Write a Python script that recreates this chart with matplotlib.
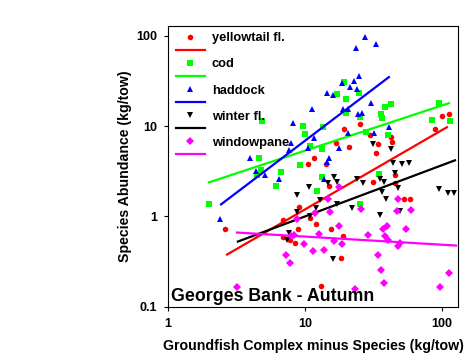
import matplotlib
matplotlib.use('Agg')
import matplotlib.pyplot as plt
import numpy as np

plt.rcParams['font.family'] = ['Liberation Sans', 'DejaVu Sans']
plt.rcParams['font.weight'] = 'bold'

# yellowtail flounder
yt_x = [19.3, 25.2, 29.8, 34.1, 42.5, 43.2, 20.9, 16.8, 33.0, 11.6, 88.9, 100, 112,
        10.5, 14.2, 31.4, 45.4, 45.4, 52.8, 58.4, 9.04, 10.9, 12.0, 15.5, 2.61, 6.91,
        8.89, 6.91, 7.78, 8.45, 18.9, 18.3, 13.1, 15.0]
yt_y = [9.27, 10.5, 7.94, 6.31, 7.55, 6.64, 5.84, 6.47, 5.01, 4.41, 9.27, 12.9, 13.6,
        3.78, 3.78, 2.39, 2.85, 2.33, 1.55, 1.55, 1.26, 0.95, 0.815, 0.717, 0.735, 0.903,
        0.717, 0.585, 0.555, 0.514, 0.6, 0.35, 0.171, 2.15]

# cod
cod_x = [19.3, 17.1, 19.9, 24.8, 38.4, 42.5, 95.1, 4.85, 9.67, 13.5, 19.9, 25.2, 35.9,
         36.5, 84.5, 114, 10.0, 27.9, 40.4, 10.9, 13.3, 4.62, 4.77, 4.46, 6.68, 6.14,
         9.2, 12.2, 13.3, 1.99, 25.2, 34.7]
cod_y = [30.8, 22.7, 20.0, 23.3, 16.3, 17.6, 18.0, 11.4, 10.0, 9.75, 13.9, 12.6, 13.6,
         12.3, 11.7, 11.4, 8.15, 8.58, 7.94, 6.0, 5.55, 4.41, 3.24, 2.85, 3.08, 2.15,
         3.69, 1.9, 2.71, 1.39, 1.39, 2.93]

# haddock
had_x = [27.4, 23.6, 33.0, 18.6, 22.8, 24.8, 21.3, 24.0, 14.5, 16.0, 11.2, 18.9, 20.6,
         30.3, 24.4, 26.1, 8.2, 41.0, 31.9, 11.6, 7.6, 10.5, 17.7, 15.0, 4.0, 4.4, 5.1,
         6.5, 2.4, 14.5, 13.8, 7.9, 20.6]
had_y = [97.5, 73.6, 81.5, 30.0, 31.6, 35.9, 27.1, 25.8, 23.3, 22.1, 15.4, 15.4, 15.4,
         18.0, 13.6, 13.9, 10.8, 9.7, 8.4, 7.4, 5.5, 5.7, 5.7, 4.5, 4.4, 3.16, 2.9,
         2.6, 0.93, 4.0, 2.6, 6.5, 8.4]

# winter flounder
wf_x = [31.4, 42.5, 43.9, 51.1, 57.4, 45.4, 26.5, 35.3, 37.7, 47.7, 36.5, 39.0, 95.1,
        110.6, 122, 16.3, 17.1, 14.7, 24.0, 8.74, 10.7, 12.9, 17.1, 22.0, 12.0, 8.74,
        10.9, 35.3, 49.3, 7.64, 7.39, 16.0]
wf_y = [6.31, 5.55, 3.88, 3.78, 3.88, 3.0, 2.33, 2.58, 2.39, 2.05, 1.85, 1.58, 2.0,
        1.8, 1.8, 2.71, 2.39, 2.33, 2.58, 1.71, 2.1, 1.51, 1.36, 1.23, 1.23, 1.11,
        1.0, 1.05, 1.14, 0.664, 0.555, 0.341]

# windowpane
wp_x = [17.7, 14.7, 25.6, 15.2, 11.8, 8.74, 17.7, 7.91, 8.31, 9.84, 11.4, 13.8, 12.6,
        7.26, 7.78, 3.19, 16.3, 18.6, 23.2, 28.8, 34.1, 35.9, 37.7, 37.1, 39.7, 38.4,
        40.4, 47.7, 47.0, 59.4, 54.6, 49.3, 47.7, 112, 96.7]
wp_y = [2.1, 1.58, 1.2, 1.11, 1.08, 0.926, 0.794, 0.615, 0.63, 0.489, 0.409, 0.43, 0.647,
        0.378, 0.308, 0.167, 0.541, 0.489, 0.158, 0.63, 0.378, 0.258, 0.185, 0.717, 0.774,
        0.615, 0.555, 1.55, 1.14, 1.17, 0.717, 0.514, 0.476, 0.239, 0.167]

# power-law fits: log10(y) = a + b*log10(x), over [xmin, xmax]
fit_a = [-0.801, 0.228, -0.312, -0.568, -0.133]
fit_b = [0.879, 0.501, 1.151, 0.568, -0.090]
fit_xmin = [2.7, 1.99, 2.44, 3.24, 3.19]
fit_xmax = [108.7, 112.5, 41.0, 124.5, 126.5]

names = ['yellowtail fl.', 'cod', 'haddock', 'winter fl.', 'windowpane']
colors = ['#ff0000', '#00ff00', '#0000ff', '#000000', '#ff00ff']
markers = ['o', 's', '^', 'v', 'D']
msizes = [4.0, 4.5, 5.0, 5.0, 4.2]
xs = [yt_x, cod_x, had_x, wf_x, wp_x]
ys = [yt_y, cod_y, had_y, wf_y, wp_y]

fig = plt.figure(figsize=(4.75, 3.56), dpi=100)
ax = fig.add_axes([168 / 475, 49.3 / 356, 290 / 475, 280.7 / 356])

handles = []
labels = []
for i in range(5):
    pts, = ax.plot(xs[i], ys[i], linestyle='none', marker=markers[i], ms=msizes[i],
                   color=colors[i], markeredgewidth=0)
    fx = np.logspace(np.log10(fit_xmin[i]), np.log10(fit_xmax[i]), 50)
    fy = 10 ** (fit_a[i] + fit_b[i] * np.log10(fx))
    ln, = ax.plot(fx, fy, color=colors[i], lw=1.6)
    handles += [pts, ln]
    labels += [names[i], ' ']

ax.set_xscale('log')
ax.set_yscale('log')
ax.set_xlim(1, 131)
ax.set_ylim(0.1, 129)
ax.set_xticks([1, 10, 100])
ax.set_xticklabels(['1', '10', '100'])
ax.set_yticks([0.1, 1, 10, 100])
ax.set_yticklabels(['0.1', '1', '10', '100'])
ax.minorticks_off()
ax.tick_params(length=3, width=0.8, pad=5, labelsize=9)
for s in ax.spines.values():
    s.set_linewidth(0.8)

ax.set_xlabel('Groundfish Complex minus Species (kg/tow)', fontsize=10.2, fontweight='bold')
ax.set_ylabel('Species Abundance (kg/tow)', fontsize=10.2, fontweight='bold')
ax.xaxis.set_label_coords(0.5, -0.115)
ax.yaxis.set_label_coords(-0.125, 0.5)

leg = ax.legend(handles, labels, loc='upper left', bbox_to_anchor=(0.028, 0.978),
                frameon=False, borderpad=0, borderaxespad=0, labelspacing=0.08,
                handlelength=2.2, handletextpad=0.55,
                prop={'weight': 'bold', 'size': 9.3})

ax.text(0.012, 0.02, 'Georges Bank - Autumn', transform=ax.transAxes,
        fontsize=12.8, fontweight='bold', va='baseline', ha='left')

fig.savefig('out.png', dpi=100)
